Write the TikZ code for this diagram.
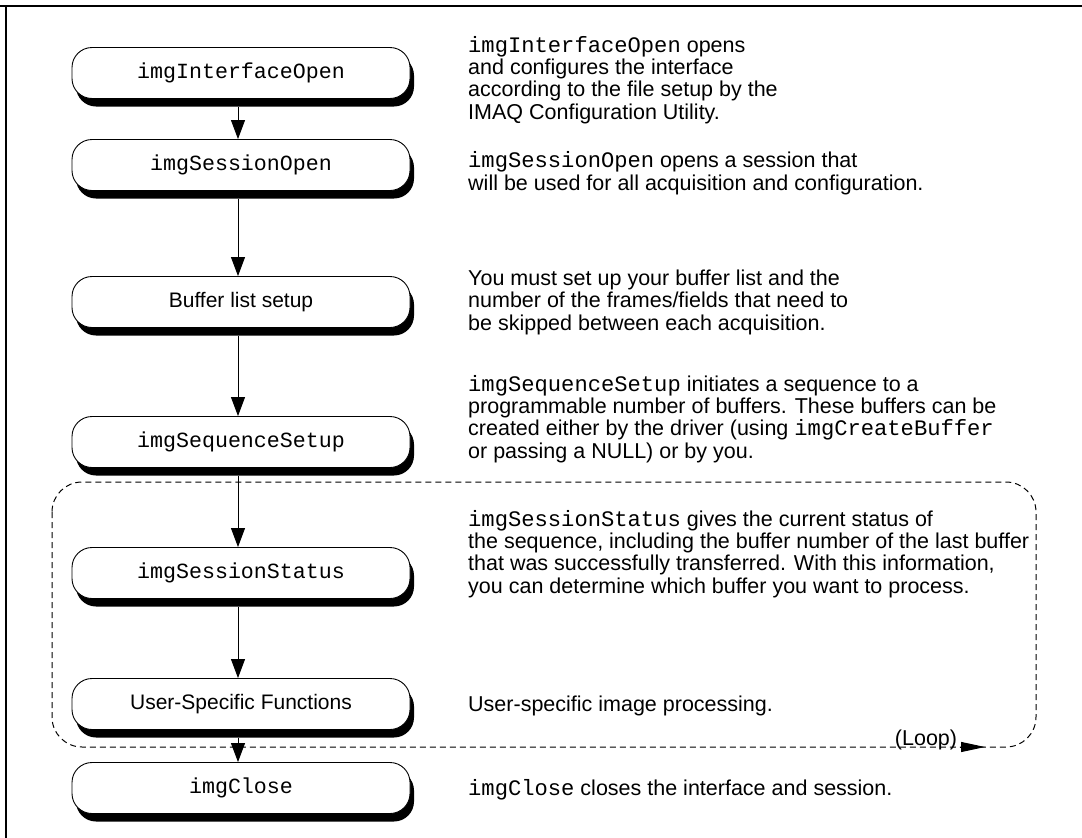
\documentclass[tikz,border=0pt]{standalone}
\usepackage{fontspec}
\setmainfont{Liberation Sans}
\setmonofont[Scale=1.03]{Liberation Mono}
\usetikzlibrary{arrows.meta,shadows}

\begin{document}
\begin{tikzpicture}[x=1pt,y=-1pt,
  stepbox/.style={draw, line width=0.9pt, fill=white, rounded corners=20pt,
    minimum width=338pt, minimum height=51pt, inner sep=0pt,
    font=\fontsize{21}{22.5}\selectfont,
    drop shadow={shadow xshift=4pt, shadow yshift=-8pt, fill=black, opacity=1}},
  % multi-line notes are anchored at the baseline of their last line
  note/.style={anchor=base west, align=left, inner sep=0pt,
    font=\fontsize{21.5}{22.3}\selectfont},
  flowarrow/.style={line width=0.9pt, -{Triangle[width=14pt,length=19pt]}},
  loopline/.style={line width=1pt, dash pattern=on 6pt off 4pt, rounded corners=30pt},
  looparrow/.style={line width=1pt, -{Triangle[width=10pt,length=24pt]}}
]
\useasboundingbox (0,0) rectangle (1082,838);

% outer frame: top and left rules
\draw[line width=2.6pt] (0,6) -- (1082,6);
\draw[line width=2pt] (6,6) -- (6,838);

% acquisition loop
\draw[loopline] (52,482) rectangle (1036,747);
\coordinate (loopstart) at (960,747);
\coordinate (loopend) at (985,747);
\draw[looparrow] (loopstart) -- (loopend);
\node[note, anchor=base] (looplabel) at (926,745) {(Loop)};

% flow chart steps
\node[stepbox] (b1) at (241,73)  {\ttfamily imgInterfaceOpen};
\node[stepbox] (b2) at (241,165) {\ttfamily imgSessionOpen};
\node[stepbox] (b3) at (241,302) {Buffer list setup};
\node[stepbox] (b4) at (241,442) {\ttfamily imgSequenceSetup};
\node[stepbox] (b5) at (241,573) {\ttfamily imgSessionStatus};
\node[stepbox] (b6) at (241,704) {User-Specific Functions};
\node[stepbox] (b7) at (241,788) {\ttfamily imgClose};

\foreach \a/\b in {b1/b2,b2/b3,b3/b4,b4/b5,b5/b6,b6/b7}
  \draw[flowarrow] ([xshift=-3pt,yshift=-8pt]\a.south) -- ([xshift=-3pt]\b.north);

% descriptions
\node[note] (t1) at (468,119) {\texttt{imgInterfaceOpen} opens\\
  and configures the interface\\
  according to the file setup by the\\
  IMAQ Configuration Utility.};
\node[note] (t2) at (468,190) {\texttt{imgSessionOpen} opens a session that\\
  will be used for all acquisition and configuration.};
\node[note] (t3) at (468,330) {You must set up your buffer list and the\\
  number of the frames/fields that need to\\
  be skipped between each acquisition.};
\node[note] (t4) at (468,458) {\texttt{imgSequenceSetup} initiates a sequence to a\\
  programmable number of buffers. These buffers can be\\
  created either by the driver (using \texttt{imgCreateBuffer}\\
  or passing a NULL) or by you.};
\node[note] (t5) at (468,593) {\texttt{imgSessionStatus} gives the current status of\\
  the sequence, including the buffer number of the last buffer\\
  that was successfully transferred. With this information,\\
  you can determine which buffer you want to process.};
\node[note] (t6) at (468,711) {User-specific image processing.};
\node[note] (t7) at (468,795) {\texttt{imgClose} closes the interface and session.};
\end{tikzpicture}
\end{document}
